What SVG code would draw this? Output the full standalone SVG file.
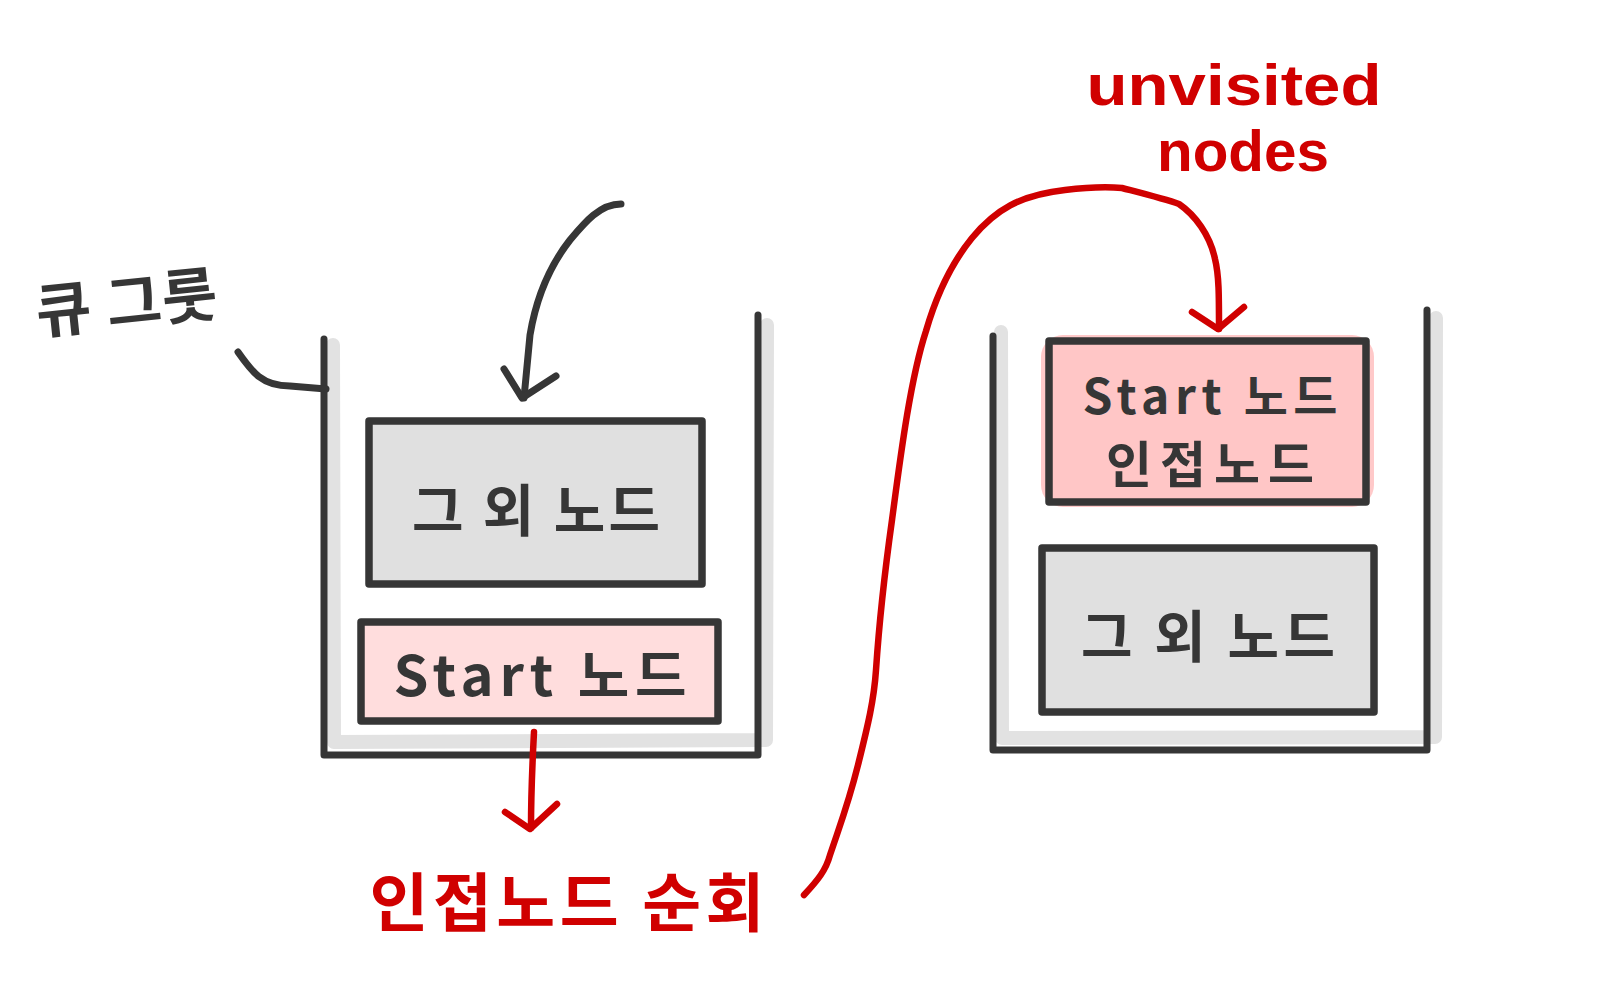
<svg xmlns="http://www.w3.org/2000/svg" width="1622" height="999" viewBox="0 0 1622 999">
<defs>
<style>
.dk{fill:none;stroke:#363636;stroke-width:7;stroke-linecap:round;stroke-linejoin:round}
.rd{fill:none;stroke:#d00000;stroke-width:6.5;stroke-linecap:round;stroke-linejoin:round}
.sh{fill:none;stroke:#e2e2e2;stroke-width:14;stroke-linecap:round;stroke-linejoin:round}
.box{stroke:#363636;stroke-width:7.5;stroke-linejoin:round}
.t{font-family:"Noto Sans CJK KR","Noto Sans",sans-serif;font-weight:700;fill:#363636;text-anchor:middle;dominant-baseline:central}
.tr{font-family:"Noto Sans CJK KR","Noto Sans",sans-serif;font-weight:700;fill:#d00000;text-anchor:middle;dominant-baseline:central}
.tl{font-family:"Liberation Sans",Arial,sans-serif;font-weight:700;fill:#d00000;text-anchor:middle;dominant-baseline:central}
</style>
</defs>
<rect width="1622" height="999" fill="#ffffff"/>

<g id="queue-left">
<path class="sh" d="M333,345 L334,742 L766,740 L767,325"/>
<path class="dk" d="M324,339 L324,755 L758,755 L758,315"/>
</g>

<g id="queue-right">
<path class="sh" d="M1001,332 L1002,738 L1435,737 L1436,318"/>
<path class="dk" d="M993,336 L993,750 L1427,750 L1427,310"/>
</g>

<g id="left-other">
<rect x="369" y="421" width="333" height="163" fill="#e0e0e0" class="box"/>
<text class="t" x="536" y="506" font-size="56" textLength="248" lengthAdjust="spacing">그 외 노드</text>
</g>

<g id="left-start">
<rect x="361" y="622" width="357" height="99" fill="#ffdddd" class="box"/>
<text class="t" x="540" y="671" font-size="56" textLength="293" lengthAdjust="spacing">Start 노드</text>
</g>

<g id="right-start">
<rect x="1041" y="335" width="333" height="172" rx="22" fill="#ffc9c9"/>
<rect x="1049" y="341" width="317" height="161" fill="#ffc6c6" class="box"/>
<text class="t" x="1210" y="393" font-size="48" textLength="255" lengthAdjust="spacing">Start 노드</text>
<text class="t" x="1210" y="461" font-size="50" textLength="208" lengthAdjust="spacing">인접노드</text>
</g>

<g id="right-other">
<rect x="1042" y="548" width="332" height="164" fill="#e0e0e0" class="box"/>
<text class="t" x="1208" y="632" font-size="56" textLength="254" lengthAdjust="spacing">그 외 노드</text>
</g>

<g id="labels">
<text class="t" x="126" y="298" font-size="60" textLength="182" lengthAdjust="spacing" transform="rotate(-6 126 298)">큐 그룻</text>
<text class="tr" x="567" y="898" font-size="64" textLength="395" lengthAdjust="spacing">인접노드 순회</text>
<text class="tl" x="1234" y="84" font-size="58" textLength="295" lengthAdjust="spacingAndGlyphs">unvisited</text>
<text class="tl" x="1243" y="150" font-size="58" textLength="172" lengthAdjust="spacingAndGlyphs">nodes</text>
</g>

<g id="connectors">
<path class="dk" d="M238,352 C252,372 262,386 290,386 L326,389"/>
<path class="dk" d="M621,204 C600,204 585,222 570,240 C545,272 535,305 530,335 L524,398"/>
<path class="dk" d="M504,369 L522,398 L556,376"/>
<path class="rd" d="M534,732 C532,770 531,800 531,828"/>
<path class="rd" d="M505,812 L530,829 L557,804"/>
<path class="rd" d="M804,895 C818,880 826,870 830,855 C840,825 848,805 858,765 C868,725 874,700 876,670 C880,610 885,570 892,520 C900,460 910,380 926,331 C935,300 950,265 972,238 C995,210 1020,195 1065,190 C1090,187 1110,187 1122,188 C1145,194 1165,199 1179,204 C1195,215 1210,235 1215,259 C1219,275 1219,295 1219,329"/>
<path class="rd" d="M1192,312 L1218,329 L1244,307"/>
</g>
</svg>
